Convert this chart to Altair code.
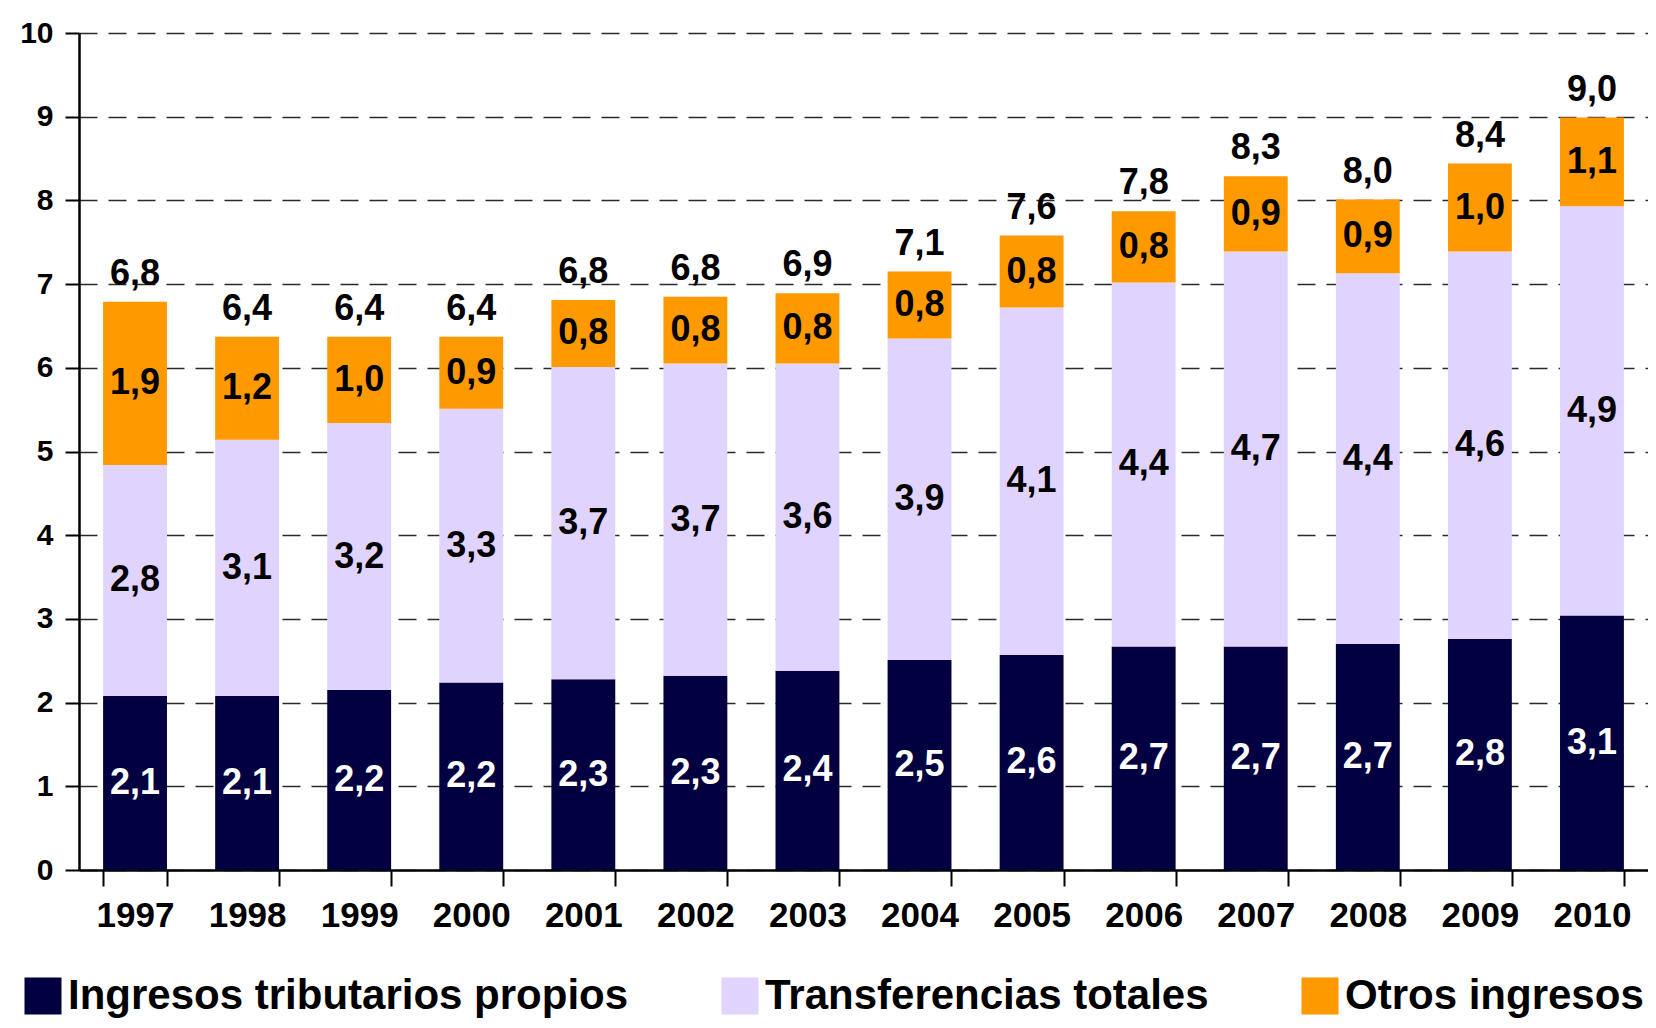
import altair as alt
import pandas as pd

years = ["1997", "1998", "1999", "2000", "2001", "2002", "2003",
         "2004", "2005", "2006", "2007", "2008", "2009", "2010"]

series = ["Ingresos tributarios propios", "Transferencias totales", "Otros ingresos"]
colors = ["#020040", "#E0D4FF", "#FF9900"]

# values (segment heights)
tributarios = [2.08, 2.08, 2.15, 2.24, 2.28, 2.32, 2.38, 2.51, 2.57, 2.67, 2.67, 2.70, 2.76, 3.04]
transferencias = [2.76, 3.06, 3.19, 3.27, 3.73, 3.73, 3.67, 3.84, 4.15, 4.35, 4.72, 4.43, 4.63, 4.89]
otros = [1.95, 1.23, 1.03, 0.86, 0.80, 0.80, 0.84, 0.80, 0.86, 0.85, 0.90, 0.88, 1.05, 1.06]

# labels as printed on the chart
tributarios_lbl = ["2,1", "2,1", "2,2", "2,2", "2,3", "2,3", "2,4", "2,5", "2,6", "2,7", "2,7", "2,7", "2,8", "3,1"]
transferencias_lbl = ["2,8", "3,1", "3,2", "3,3", "3,7", "3,7", "3,6", "3,9", "4,1", "4,4", "4,7", "4,4", "4,6", "4,9"]
otros_lbl = ["1,9", "1,2", "1,0", "0,9", "0,8", "0,8", "0,8", "0,8", "0,8", "0,8", "0,9", "0,9", "1,0", "1,1"]
total_lbl = ["6,8", "6,4", "6,4", "6,4", "6,8", "6,8", "6,9", "7,1", "7,6", "7,8", "8,3", "8,0", "8,4", "9,0"]

y_ticks = list(range(0, 11))

rows = []
tops = []
for i, yr in enumerate(years):
    base = 0.0
    for k, (vals, lbls) in enumerate([(tributarios, tributarios_lbl),
                                      (transferencias, transferencias_lbl),
                                      (otros, otros_lbl)]):
        v = vals[i]
        rows.append(dict(year=yr, serie=series[k], idx=k, start=base, end=base + v,
                         mid=base + v / 2, label=lbls[i]))
        base += v
    tops.append(base)
df = pd.DataFrame(rows)
tot = pd.DataFrame(dict(year=years, top=tops, label=total_lbl))

FONT = "Liberation Sans"

xenc = alt.X("year:N", sort=years,
             scale=alt.Scale(paddingInner=0.43, paddingOuter=0.215),
             axis=alt.Axis(title=None, labelAngle=0, labelFontSize=35, tickSize=16,
                           tickWidth=2, domainWidth=2.5, labelPadding=12,
                           tickBand="extent", grid=False))
yscale = alt.Scale(domain=[0, 10], nice=False, zero=True)

bars = alt.Chart(df).mark_bar().encode(
    x=xenc,
    y=alt.Y("start:Q", scale=yscale,
            axis=alt.Axis(title=None, values=y_ticks, format="d", labelFontSize=30,
                          tickSize=14, tickWidth=2, domainWidth=2.5, labelPadding=12,
                          grid=True, gridDash=[18, 11], gridColor="#2a2a2a",
                          gridWidth=1.6)),
    y2="end:Q",
    color=alt.Color("serie:N", sort=series,
                    scale=alt.Scale(domain=series, range=colors),
                    legend=alt.Legend(title=None, orient="none", legendX=-57, legendY=942,
                                      direction="horizontal", columns=3,
                                      symbolType="square", symbolSize=1369,
                                      symbolStrokeWidth=0, symbolOpacity=1,
                                      labelFontSize=42, labelFont=FONT,
                                      labelFontWeight="bold", labelColor="black",
                                      labelLimit=1000, columnPadding=90,
                                      labelOffset=4, padding=0)),
)

inner_white = alt.Chart(df).transform_filter("datum.idx == 0").mark_text(
    font=FONT, fontSize=36, fontWeight="bold", baseline="middle", color="white"
).encode(x=alt.X("year:N", sort=years), y=alt.Y("mid:Q", scale=yscale), text="label:N")

inner_black = alt.Chart(df).transform_filter("datum.idx > 0").mark_text(
    font=FONT, fontSize=36, fontWeight="bold", baseline="middle", color="black"
).encode(x=alt.X("year:N", sort=years), y=alt.Y("mid:Q", scale=yscale), text="label:N")

totals = alt.Chart(tot).mark_text(
    font=FONT, fontSize=36, fontWeight="bold", baseline="alphabetic", dy=-17, color="black"
).encode(x=alt.X("year:N", sort=years), y=alt.Y("top:Q", scale=yscale), text="label:N")

chart = alt.layer(bars, inner_white, inner_black, totals).properties(
    width=1569, height=837,
    autosize=alt.AutoSizeParams(type="none"),
    padding={"left": 71, "top": 25, "right": 0, "bottom": 150},
).configure_view(stroke=None).configure_axis(
    labelFont=FONT, labelFontWeight="bold", labelColor="black",
    domainColor="black", tickColor="black"
)

chart.save("out.html", embed_options={"renderer": "svg", "actions": False})
